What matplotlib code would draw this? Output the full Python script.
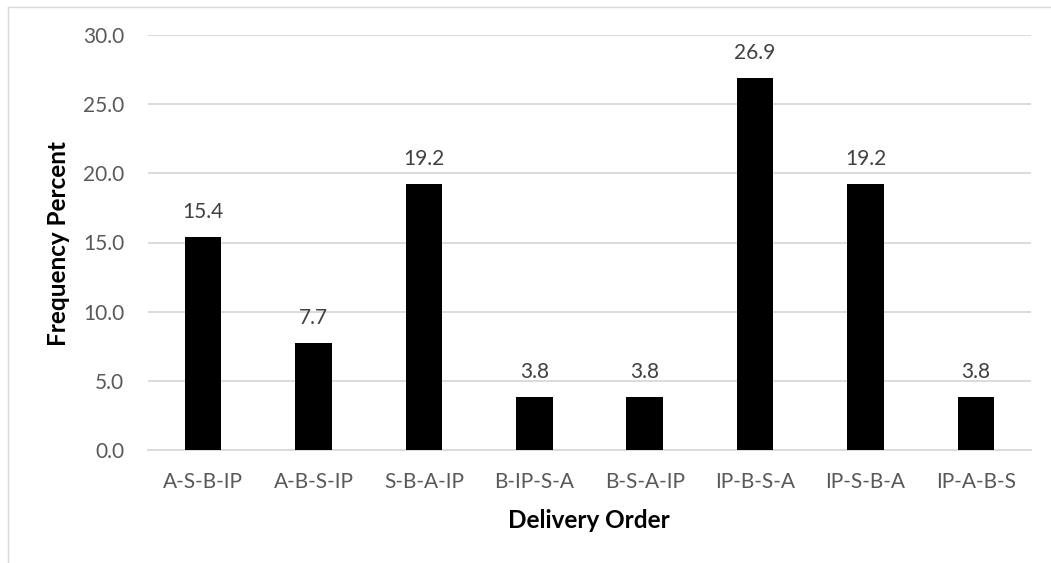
import matplotlib
matplotlib.use("Agg")
import matplotlib.pyplot as plt
from matplotlib.lines import Line2D

categories = ["A-S-B-IP", "A-B-S-IP", "S-B-A-IP", "B-IP-S-A", "B-S-A-IP", "IP-B-S-A", "IP-S-B-A", "IP-A-B-S"]
values = [15.4, 7.7, 19.2, 3.8, 3.8, 26.9, 19.2, 3.8]
yticks = [0, 5, 10, 15, 20, 25, 30]

plt.rcParams['font.family'] = ['Lato', 'DejaVu Sans']

W, H = 1051, 563
fig = plt.figure(figsize=(W/100, H/100), dpi=100)
ax = fig.add_axes([148/W, 1-450/H, (1031-148)/W, (450-35)/H])

x = list(range(len(categories)))
ax.bar(x, values, width=0.33, color="black", zorder=3)
for xi, v in zip(x, values):
    ax.annotate(f"{v:.1f}", (xi, v), xytext=(0, 11), textcoords="offset points",
                ha="center", va="bottom", fontsize=15, color="#404040")

ax.set_xlim(-0.5, len(categories)-0.5)
ax.set_ylim(0, 30)
ax.set_yticks(yticks)
ax.set_yticklabels([f"{t:.1f}" for t in yticks], fontsize=15, color="#595959")
ax.set_xticks(x)
ax.set_xticklabels(categories, fontsize=15, color="#595959")
ax.tick_params(axis='both', length=0)
ax.tick_params(axis='y', pad=17)
ax.tick_params(axis='x', pad=16)
ax.grid(axis='y', color="#d9d9d9", linewidth=1.3, zorder=0)
for s in ["top", "right", "left"]:
    ax.spines[s].set_visible(False)
ax.spines["bottom"].set_color("#d9d9d9")
ax.spines["bottom"].set_linewidth(1.3)

fig.text(59/W, 1-243/H, "Frequency Percent", rotation=90, ha="center", va="center",
         fontsize=17.5, fontweight="bold", color="black")
fig.text(589/W, 1-520/H, "Delivery Order", ha="center", va="center",
         fontsize=17.5, fontweight="bold", color="black")

# chart area border (top and left visible)
fig.add_artist(Line2D([8/W, 1], [1-7/H, 1-7/H], transform=fig.transFigure, color="#d9d9d9", linewidth=1))
fig.add_artist(Line2D([8/W, 8/W], [0, 1-7/H], transform=fig.transFigure, color="#d9d9d9", linewidth=1))

fig.savefig("out.png", dpi=100)
